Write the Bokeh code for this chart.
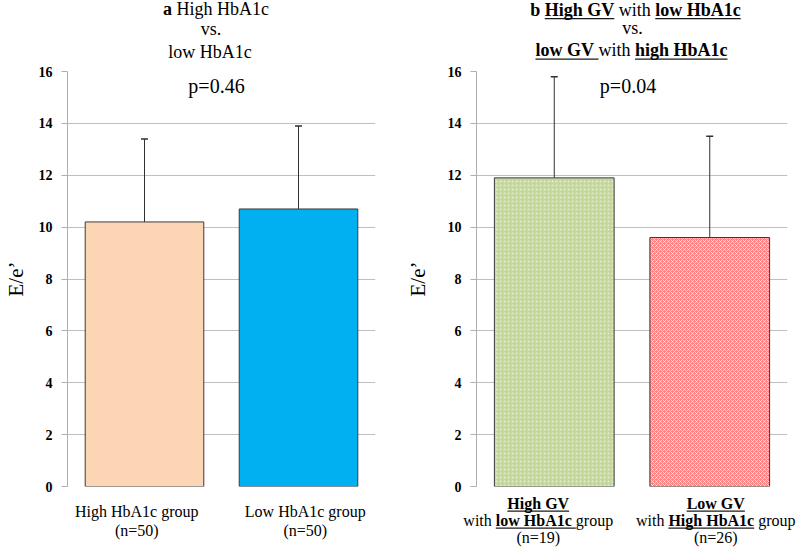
import numpy as np
from bokeh.plotting import figure
from bokeh.models import (Range1d, FactorRange, FixedTicker, Label, Whisker,
                          TeeHead, ColumnDataSource)
from bokeh.layouts import row, column
from bokeh.embed import file_html
from bokeh.resources import INLINE

# ---------------- data ----------------
cats_a = ["High HbA1c group", "Low HbA1c group"]
n_a = [50, 50]
mean_a = [10.2, 10.7]
sd_a = [3.2, 3.2]
p_a = "p=0.46"

cats_b = ["High GV with low HbA1c group", "Low GV with High HbA1c group"]
n_b = [19, 26]
mean_b = [11.9, 9.6]
sd_b = [3.9, 3.9]
p_b = "p=0.04"

y_ticks = [0, 2, 4, 6, 8, 10, 12, 14, 16]
y_label = "E/e\u2019"

# ---------------- styling / layout ----------------
FONT = "Liberation Serif"
TITLE_H = 63
PAD_TOP = 8
PAD_BOT = 8
FRAME_H = 415
MAIN_H = FRAME_H + PAD_TOP + PAD_BOT
BOT_H = 55
FRAME_TOP_PAGE = TITLE_H + PAD_TOP          # 71
FRAME_BOT_PAGE = FRAME_TOP_PAGE + FRAME_H   # 486
BOT_TOP_PAGE = TITLE_H + MAIN_H             # 494
YPPU = FRAME_H / 16.0
BASE_FIX = 0.4  # renderer places "alphabetic" text this many ems lower

REG = {' ': 250, '(': 333, ')': 333, '.': 250, '=': 564, 'A': 722, 'G': 722,
       'H': 722, 'L': 611, 'V': 722, 'a': 444, 'b': 500, 'c': 444, 'e': 444,
       'g': 500, 'h': 500, 'i': 278, 'l': 278, 'n': 500, 'o': 500, 'p': 500,
       'r': 333, 's': 389, 't': 278, 'u': 500, 'v': 500, 'w': 722}
BOLD = {' ': 250, '(': 333, ')': 333, '.': 250, '=': 570, 'A': 722, 'G': 778,
        'H': 778, 'L': 667, 'V': 722, 'a': 500, 'b': 556, 'c': 444, 'e': 444,
        'g': 500, 'h': 556, 'i': 278, 'l': 278, 'n': 556, 'o': 500, 'p': 556,
        'r': 444, 's': 389, 't': 333, 'u': 556, 'v': 500, 'w': 722}


def tw(t, bold, size):
    tab = BOLD if bold else REG
    return sum(tab.get(ch, 500) for ch in t) * size / 1000.0


def text_fig(width, height):
    f = figure(width=width, height=height, x_range=Range1d(0, width),
               y_range=Range1d(height, 0), output_backend="svg",
               toolbar_location=None, x_axis_type=None, y_axis_type=None,
               min_border_left=0, min_border_right=0, min_border_top=0,
               min_border_bottom=0, frame_align=False)
    f.outline_line_color = None
    f.xgrid.visible = False
    f.ygrid.visible = False
    f.background_fill_color = "white"
    f.border_fill_color = "white"
    return f


def rich_line(f, segs, xc, yb, size):
    """Draw a line of mixed bold / underlined text centred on xc, baseline yb."""
    widths = [tw(t, b, size) for t, b, u in segs]
    x = xc - sum(widths) / 2.0
    ux0, ux1 = [], []
    for (t, b, u), w in zip(segs, widths):
        lead = len(t) - len(t.lstrip(' '))
        lw = tw(' ' * lead, b, size)
        txt = t.strip(' ')
        if txt:
            f.add_layout(Label(x=x + lw, y=yb - BASE_FIX * size, text=txt,
                               text_align="left", text_baseline="alphabetic",
                               text_font=FONT, text_font_size=f"{size}px",
                               text_font_style="bold" if b else "normal",
                               text_color="black"))
        if u:
            ux0.append(x + lw)
            ux1.append(x + w)
        x += w
    if ux0:
        f.segment(x0=ux0, x1=ux1, y0=[yb + 1.6] * len(ux0), y1=[yb + 1.6] * len(ux0),
                  line_color="#1A1A1A", line_width=1.2)


def make_fig(cats, means, sds, colors, hatches, width, left, right, lab_standoff):
    p = figure(width=width, height=MAIN_H, x_range=FactorRange(*cats),
               y_range=Range1d(0, 16), output_backend="svg", toolbar_location=None,
               min_border_left=left, min_border_right=right,
               min_border_top=PAD_TOP, min_border_bottom=PAD_BOT, frame_align=False)
    p.outline_line_color = None
    p.background_fill_color = "white"
    p.border_fill_color = "white"
    p.xaxis.visible = False
    p.xgrid.grid_line_color = None
    p.ygrid.grid_line_color = "#BFBFBF"
    p.ygrid.grid_line_width = 1
    p.yaxis.ticker = FixedTicker(ticks=y_ticks)
    p.yaxis.axis_line_color = "#B0B0B0"
    p.yaxis.major_tick_line_color = "#B0B0B0"
    p.yaxis.major_tick_out = 6
    p.yaxis.major_tick_in = 0
    p.yaxis.minor_tick_line_color = None
    p.yaxis.major_label_standoff = 9
    p.yaxis.major_label_text_font = FONT
    p.yaxis.major_label_text_font_style = "bold"
    p.yaxis.major_label_text_font_size = "14px"
    p.yaxis.major_label_text_color = "black"
    p.yaxis.axis_label = y_label
    p.yaxis.axis_label_text_font = FONT
    p.yaxis.axis_label_text_font_style = "normal"
    p.yaxis.axis_label_text_font_size = "21px"
    p.yaxis.axis_label_text_color = "black"
    p.yaxis.axis_label_standoff = lab_standoff

    p.vbar(x=cats, top=means, bottom=0, width=0.77, fill_color=colors,
           line_color="#3A3A3A", line_width=1,
           hatch_pattern=hatches, hatch_color="white", hatch_scale=4,
           hatch_weight=1, hatch_alpha=0.55)

    src = ColumnDataSource(dict(base=cats, lower=means,
                                upper=[m + s for m, s in zip(means, sds)]))
    wk = Whisker(base="base", lower="lower", upper="upper", source=src,
                 line_color="#303030", line_width=1, lower_head=None,
                 upper_head=TeeHead(size=7, line_color="#303030", line_width=1.5))
    p.add_layout(wk)
    return p


def ydat(page_y):
    return (FRAME_BOT_PAGE - page_y) / YPPU


def ybot(page_y):
    return page_y - BOT_TOP_PAGE


# ---------------- panel a ----------------
WA, LA, RA = 398, 66, 23
pa = make_fig(cats_a, mean_a, sd_a, ["#FCD5B5", "#00B0F0"], [" ", " "], WA, LA, RA, 8)
pa.add_layout(Label(x=1.0, y=ydat(93 - BASE_FIX * 20), x_offset=-5, text=p_a,
                    text_align="center", text_baseline="alphabetic", text_font=FONT,
                    text_font_size="20px", text_color="black"))
fw_a = WA - LA - RA
cat_centers_a = [LA + (i + 0.5) * fw_a / 2.0 for i in range(len(cats_a))]
mid_a = LA + fw_a / 2.0

ta = text_fig(WA, TITLE_H)
rich_line(ta, [("a", True, False), (" High HbA1c", False, False)], mid_a - 5, 16, 18)
rich_line(ta, [("vs.", False, False)], mid_a - 10, 36, 18)
rich_line(ta, [("low HbA1c", False, False)], mid_a - 11, 59, 18)

ba = text_fig(WA, BOT_H)
xa_off = [-7, 7]
for i, c in enumerate(cats_a):
    xc = cat_centers_a[i] + xa_off[i]
    rich_line(ba, [(c, False, False)], xc, ybot(517), 16)
    rich_line(ba, [(f"(n={n_a[i]})", False, False)], xc, ybot(536), 16)

# ---------------- panel b ----------------
WB, LB, RB = 399, 78, 10
pb = make_fig(cats_b, mean_b, sd_b, ["#C4D79B", "#FF8585"], ["dot", "diagonal_cross"],
              WB, LB, RB, 15)
pb.add_layout(Label(x=1.0, y=ydat(93 - BASE_FIX * 20), x_offset=-4, text=p_b,
                    text_align="center", text_baseline="alphabetic", text_font=FONT,
                    text_font_size="20px", text_color="black"))
fw_b = WB - LB - RB
cat_centers_b = [LB + (i + 0.5) * fw_b / 2.0 for i in range(len(cats_b))]
mid_b = LB + fw_b / 2.0

tb = text_fig(WB, TITLE_H)
rich_line(tb, [("b", True, False), (" ", False, False), ("High GV", True, True),
               (" with ", False, False), ("low HbA1c", True, True)], mid_b + 3.5, 16.5, 18)
rich_line(tb, [("vs.", False, False)], mid_b + 0.5, 35, 18)
rich_line(tb, [("low GV ", True, True), ("with ", False, False), ("high HbA1c", True, True)],
          mid_b - 0.5, 57, 18)

bb = text_fig(WB, BOT_H)
xb_lines = [
    [[("High GV", True, True)],
     [("with ", False, False), ("low HbA1c ", True, True), ("group", False, False)]],
    [[("Low GV", True, True)],
     [("with ", False, False), ("High HbA1c", True, True), (" group", False, False)]],
]
xb_off = [-16, 6]
for i, c in enumerate(cats_b):
    xc = cat_centers_b[i] + xb_off[i]
    rich_line(bb, xb_lines[i][0], xc, ybot(509), 16)
    rich_line(bb, xb_lines[i][1], xc, ybot(526), 16)
    rich_line(bb, [(f"(n={n_b[i]})", False, False)], xc, ybot(543), 16)

layout = row(column(ta, pa, ba), column(tb, pb, bb))
open("out.html", "w").write(file_html(layout, INLINE))
